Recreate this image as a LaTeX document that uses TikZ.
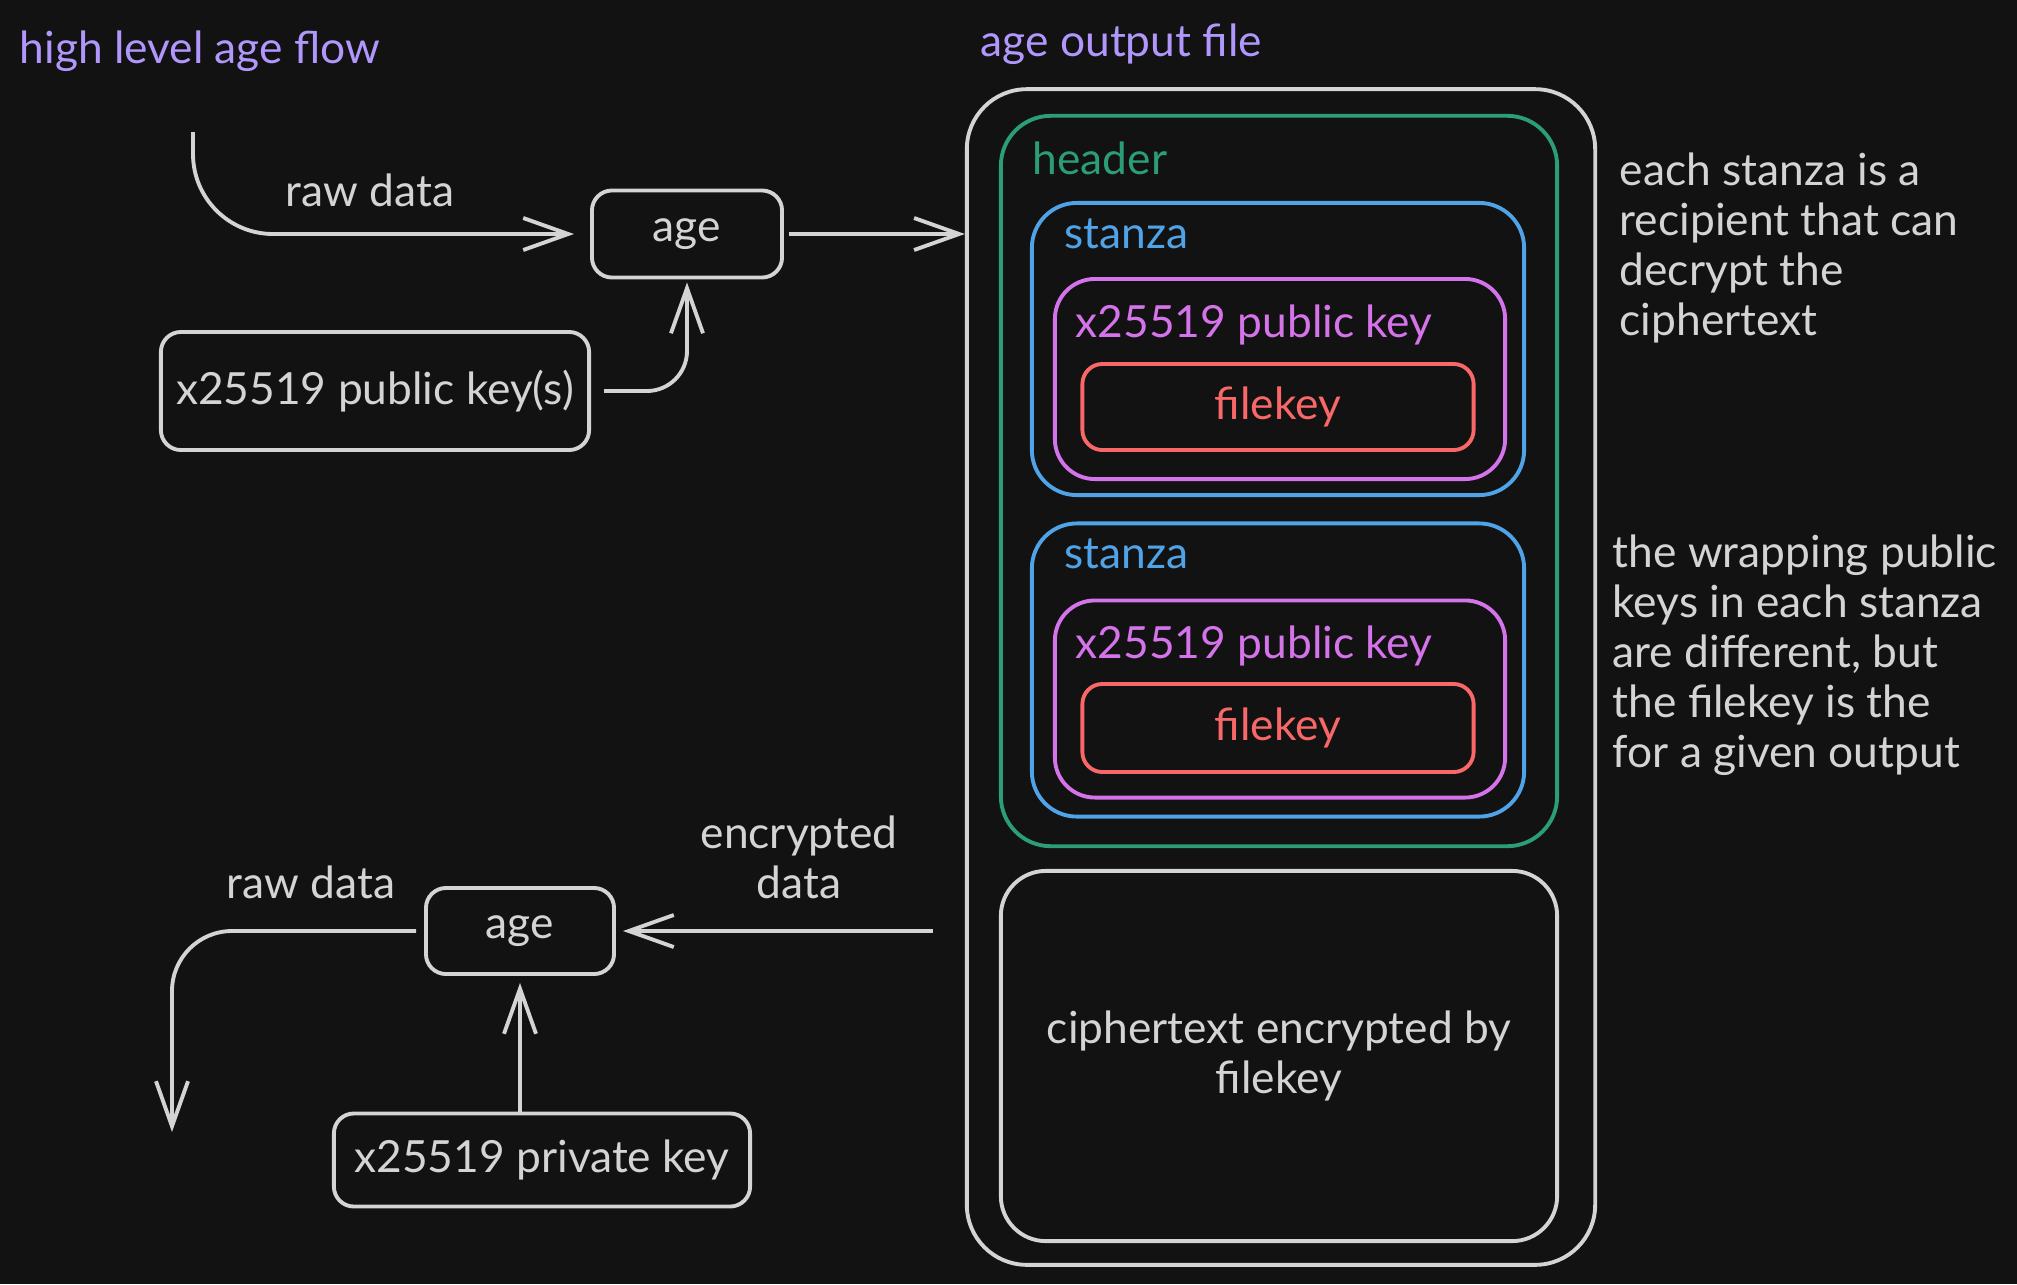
\documentclass[tikz,border=0pt]{standalone}
\usepackage{fontspec}
\setmainfont{Lato}
\usetikzlibrary{arrows.meta,positioning}

\definecolor{bg}{HTML}{121212}
\definecolor{ink}{HTML}{D4D4D4}
\definecolor{violet}{HTML}{B197FC}
\definecolor{hdrgreen}{HTML}{2B9E78}
\definecolor{stzblue}{HTML}{4FA3E6}
\definecolor{keypink}{HTML}{D473EA}
\definecolor{keyred}{HTML}{F86868}

\tikzset{
	txt/.style={font=\fontsize{12.6}{14.2}\selectfont, text=ink, inner sep=0pt},
	box/.style={txt, draw=ink, line width=1.1pt, rounded corners=0.2cm},
	frame/.style={line width=1.1pt, inner sep=0pt},
	flow/.style={draw=ink, line width=1.1pt, -{Straight Barb[length=0.45cm, width=0.32cm]}}
}

\begin{document}
\begin{tikzpicture}[x=0.01cm, y=-0.01cm]
		\fill[bg] (0,0) rectangle (2017,1284);
		\useasboundingbox (0,0) rectangle (2017,1284);
		
		\node[txt, text=violet, anchor=west] (flowtitle) at (19,51) {high level age flow};
		\node[txt, text=violet, anchor=west] (filetitle) at (980,44) {age output file};
		
		% encrypt
		\node[box, minimum width=1.9cm, minimum height=0.87cm] (encage) at (687,234) {age};
		\node[box, minimum width=4.28cm, minimum height=1.18cm] (pubkeys) at (375,391) {x25519 public key(s)};
		\coordinate (rawin) at (193,132);
		\node[txt] (rawinlbl) at (370,190) {raw data};
		
		% output file
		\node[frame, draw=ink, rounded corners=0.6cm, minimum width=6.28cm, minimum height=11.75cm] (file) at (1281,677) {};
		\node[frame, draw=hdrgreen, rounded corners=0.5cm, minimum width=5.56cm, minimum height=7.3cm] (header) at (1279,481) {};
		\node[txt, text=hdrgreen, anchor=west] (headerlbl) at (1032,158) {header};
		
		\node[frame, draw=stzblue, rounded corners=0.45cm, minimum width=4.92cm, minimum height=2.92cm] (stanza1) at (1278,349) {};
		\node[txt, text=stzblue, anchor=west] (stanzalbl1) at (1064,234) {stanza};
		\node[frame, draw=keypink, rounded corners=0.4cm, minimum width=4.5cm, minimum height=2cm] (pubkey1) at (1280,379) {};
		\node[txt, text=keypink, anchor=west] (pubkeylbl1) at (1075,325) {x25519 public key};
		\node[box, draw=keyred, text=keyred, minimum width=3.91cm, minimum height=0.86cm] (filekey1) at (1278,407) {filekey};
		
		\node[frame, draw=stzblue, rounded corners=0.45cm, minimum width=4.92cm, minimum height=2.93cm] (stanza2) at (1278,670) {};
		\node[txt, text=stzblue, anchor=west] (stanzalbl2) at (1064,554) {stanza};
		\node[frame, draw=keypink, rounded corners=0.4cm, minimum width=4.5cm, minimum height=1.97cm] (pubkey2) at (1280,699) {};
		\node[txt, text=keypink, anchor=west] (pubkeylbl2) at (1075,646) {x25519 public key};
		\node[box, draw=keyred, text=keyred, minimum width=3.91cm, minimum height=0.88cm] (filekey2) at (1278,728) {filekey};
		
		\node[box, rounded corners=0.45cm, align=center, minimum width=5.56cm, minimum height=3.7cm] (cipher) at (1279,1056) {ciphertext encrypted by\\filekey};
		
		% notes
		\node[txt, anchor=north west, align=left] (recipnote) at (1619,152) {each stanza is a\\recipient that can\\decrypt the\\ciphertext};
		\node[txt, anchor=north west, align=left] (wrapnote) at (1612,534) {the wrapping public\\keys in each stanza\\are different, but\\the filekey is the\\for a given output};
		
		% decrypt
		\node[box, minimum width=1.88cm, minimum height=0.86cm] (decage) at (520,931) {age};
		\node[box, minimum width=4.16cm, minimum height=0.93cm] (privkey) at (542,1160) {x25519 private key};
		\coordinate (encout) at (933,931);
		\coordinate (rawout) at (172,1132);
		\node[txt, align=center] (enclbl) at (799,857) {encrypted\\data};
		\node[txt] (rawoutlbl) at (311,882) {raw data};
		
		\draw [flow, rounded corners=0.8cm, shorten >=0.16cm] (rawin) |- (encage.west);
		\draw [flow, rounded corners=0.4cm, shorten <=0.13cm, shorten >=0.03cm] (pubkeys.east) -| (encage.south);
		\draw [flow, shorten <=0.05cm] (encage.east) -- (encage.east -| file.west);
		\draw [flow, shorten >=0.07cm] (encout) -- (decage.east);
		\draw [flow, rounded corners=0.6cm, shorten <=0.08cm] (decage.west) -| (rawout);
		\draw [flow, shorten >=0.07cm] (privkey.north -| decage.south) -- (decage.south);
\end{tikzpicture}
\end{document}
